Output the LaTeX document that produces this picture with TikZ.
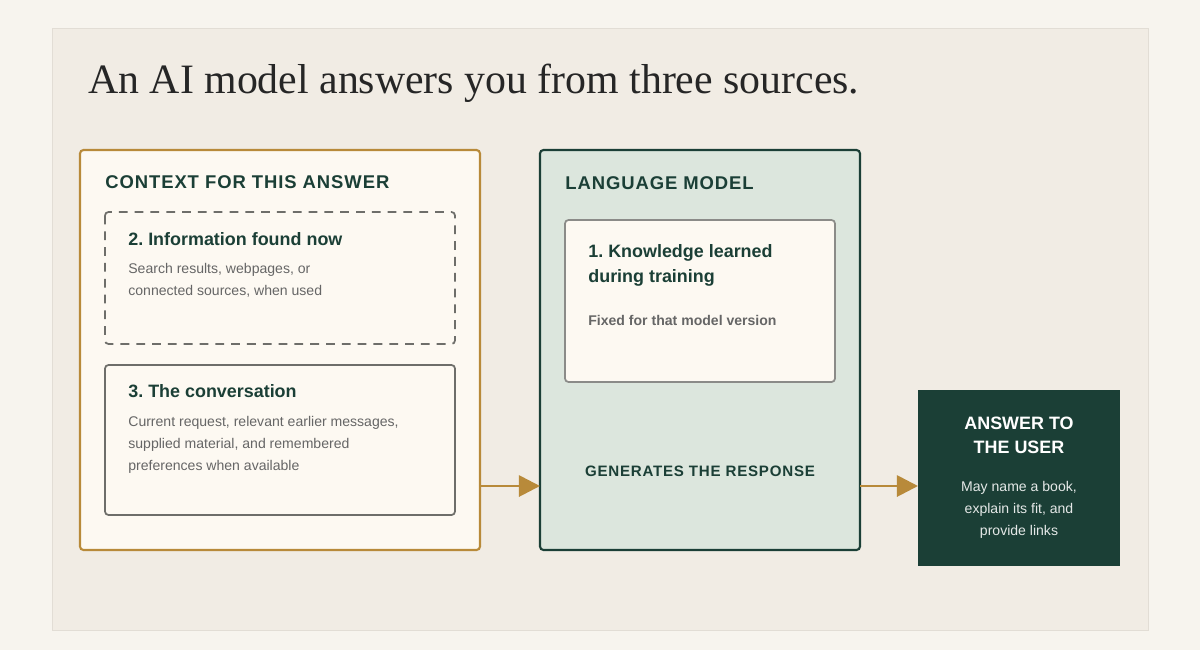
\documentclass[tikz,border=0pt]{standalone}
\usepackage{fontspec}
\setmainfont{Liberation Sans}
\newfontfamily\titlefont{Liberation Serif}
\newfontfamily\capsfont[LetterSpace=5]{Liberation Sans}
\usetikzlibrary{arrows.meta}
\usetikzlibrary{positioning}
\definecolor{pagebg}{HTML}{F7F4EE}
\definecolor{panelbg}{HTML}{F1ECE4}
\definecolor{panelrule}{HTML}{E2DDD5}
\definecolor{gold}{HTML}{B88A3A}
\definecolor{cream}{HTML}{FDF9F2}
\definecolor{sage}{HTML}{DCE6DD}
\definecolor{pine}{HTML}{1B3F36}
\definecolor{greytext}{HTML}{666666}
\definecolor{boxrule}{HTML}{6E6E6A}
\begin{document}
\frenchspacing
\begin{tikzpicture}[x=0.02cm,y=-0.02cm]
\tikzset{
  head/.style={anchor=north west,inner sep=0pt,text=pine,font=\capsfont\bfseries\fontsize{10.5}{13}\selectfont},
  sub/.style={anchor=north west,inner sep=0pt,text=pine,font=\bfseries\fontsize{10.2}{14.2}\selectfont,align=left},
  body/.style={anchor=north west,inner sep=0pt,text=greytext,font=\fontsize{8}{12.6}\selectfont,align=left},
  flow/.style={-{Triangle[length=12pt,width=12pt]},gold,line width=1.6pt}
}
\fill[pagebg] (0,0) rectangle (1200,650);
\useasboundingbox (0,0) rectangle (1200,650);
\draw[panelrule,fill=panelbg] (52,28) rectangle (1148,630);
\node[anchor=base west,inner sep=0pt,text=black!85,font=\titlefont\fontsize{23.8}{29}\selectfont] (title) at (88,93) {An AI model answers you from three sources.};
% context
\draw[gold,fill=cream,line width=1.2pt,rounded corners=2pt] (80,150) rectangle (480,550);
\coordinate (ctxout) at (480,486);
\node[head] (ctxhead) at (105,175) {CONTEXT FOR THIS ANSWER};
\draw[boxrule,dashed,line width=1pt,dash pattern=on 5pt off 4pt,rounded corners=2pt] (105,212) rectangle (455,344);
\node[sub] (infohead) at (128,232) {2. Information found now};
\node[body] (infobody) at (128,263) {Search results, webpages, or\\connected sources, when used};
\draw[boxrule,line width=1pt,rounded corners=2pt] (105,365) rectangle (455,515);
\node[sub] (convhead) at (128,384) {3. The conversation};
\node[body] (convbody) at (128,416) {Current request, relevant earlier messages,\\supplied material, and remembered\\preferences when available};
% model
\draw[pine,fill=sage,line width=1.2pt,rounded corners=2pt] (540,150) rectangle (860,550);
\coordinate (modelin) at (540,486);
\coordinate (modelout) at (860,486);
\node[head] (modelhead) at (565,176) {LANGUAGE MODEL};
\draw[boxrule!80,fill=cream,line width=1pt,rounded corners=2pt] (565,220) rectangle (835,382);
\node[sub] (knowhead) at (588,244) {1. Knowledge learned\\during training};
\node[body,font=\bfseries\fontsize{8}{12}\selectfont] (knowbody) at (588,315) {Fixed for that model version};
\node[text=pine,font=\capsfont\bfseries\fontsize{8.6}{11}\selectfont] (gen) at (700,471) {GENERATES THE RESPONSE};
% answer
\fill[pine] (918,390) rectangle (1120,566);
\coordinate (ansin) at (918,486);
\node[text=white,font=\bfseries\fontsize{10.2}{13.5}\selectfont,align=center] (anshead) at (1019,435) {ANSWER TO\\THE USER};
\node[text=white!88!pine,font=\fontsize{8}{12.6}\selectfont,align=center] (ansbody) at (1019,510) {May name a book,\\explain its fit, and\\provide links};
\draw[flow] (ctxout) -- (modelin);
\draw[flow] (modelout) -- (ansin);
\end{tikzpicture}
\end{document}
